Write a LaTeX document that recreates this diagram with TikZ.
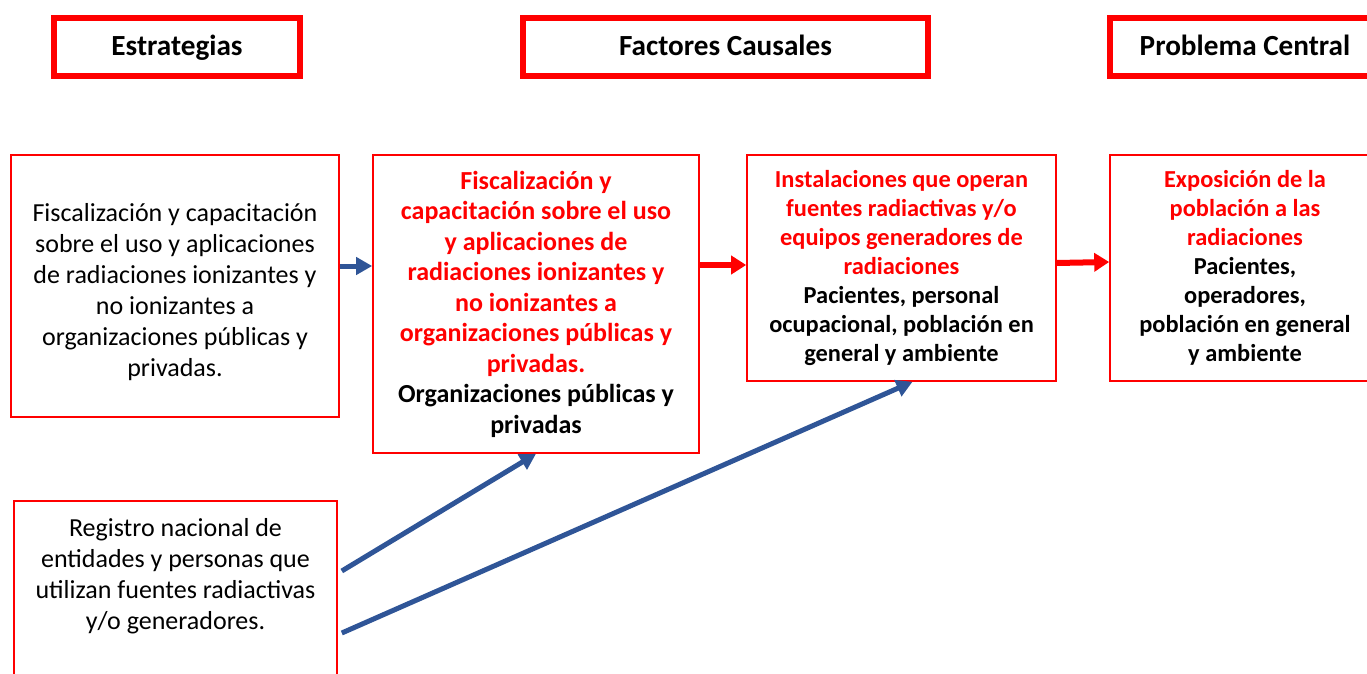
\documentclass[tikz,border=0pt]{standalone}
\usepackage{fontspec}
\setmainfont{Carlito}
\usepackage{xcolor}
\usetikzlibrary{arrows.meta,positioning,calc}

\definecolor{rojo}{HTML}{FF0000}
\definecolor{azul}{HTML}{2F5597}

\begin{document}
\begin{tikzpicture}[
    x=0.5pt, y=-0.5pt,
    header/.style={
        draw=rojo,
        line width=3pt,
        minimum height=29pt,
        text height=0.92em, text depth=0.08em,
        font=\fontsize{14.6pt}{17pt}\selectfont\bfseries
    },
    caja/.style={
        draw=rojo,
        line width=0.8pt,
        align=center,
        inner sep=0pt
    },
    normal/.style={font=\fontsize{13pt}{15.5pt}\selectfont},
    negrita/.style={font=\fontsize{12.2pt}{14.5pt}\selectfont\bfseries},
    flecha azul/.style={-{Triangle[length=8pt,width=8.5pt]}, line width=2.5pt, draw=azul},
    flecha roja/.style={-{Triangle[length=7.5pt,width=9pt]}, line width=3pt, draw=rojo}
]
\useasboundingbox (0,0) rectangle (1367,674);
\clip (0,0) rectangle (1367,674);

% encabezados
\node[header, minimum width=123pt] (estr) at (177,47) {Estrategias};
\node[header, minimum width=202.5pt] (fact) at (725.5,47) {Factores Causales};
\node[header, minimum width=135pt] (prob) at (1245,47) {Problema Central};

% cajas
\node[caja, normal, minimum width=164pt, minimum height=131pt] (fisc) at (175,286)
    {\mbox{}\\Fiscalización y capacitación\\sobre el uso y aplicaciones\\de radiaciones ionizantes y\\no ionizantes a\\organizaciones públicas y\\privadas.};
\node[caja, font=\fontsize{13pt}{15.25pt}\selectfont\bfseries, minimum width=163pt, minimum height=149pt] (fact1) at (536,304)
    {\textcolor{rojo}{Fiscalización y}\\\textcolor{rojo}{capacitación sobre el uso}\\\textcolor{rojo}{y aplicaciones de}\\\textcolor{rojo}{radiaciones ionizantes y}\\\textcolor{rojo}{no ionizantes a}\\\textcolor{rojo}{organizaciones públicas y}\\\textcolor{rojo}{privadas.}\\Organizaciones públicas y\\privadas};
\node[caja, negrita, minimum width=154.5pt, minimum height=113pt] (inst) at (901.5,268)
    {\textcolor{rojo}{Instalaciones que operan}\\\textcolor{rojo}{fuentes radiactivas y/o}\\\textcolor{rojo}{equipos generadores de}\\\textcolor{rojo}{radiaciones}\\Pacientes, personal\\ocupacional, población en\\general y ambiente};
\node[caja, negrita, minimum width=135pt, minimum height=113pt] (expo) at (1245,268)
    {\textcolor{rojo}{Exposición de la}\\\textcolor{rojo}{población a las}\\\textcolor{rojo}{radiaciones}\\Pacientes,\\operadores,\\población en general\\y ambiente};
\node[caja, normal, minimum width=161.5pt, minimum height=100pt] (regi) at (175.5,601)
    {Registro nacional de\\entidades y personas que\\utilizan fuentes radiactivas\\y/o generadores.\\[11.5pt]\mbox{}};

% flechas
\draw[flecha azul] ($(fisc.east)+(0,-20)$) -- ($(fisc.east -| fact1.west)+(0,-20)$);
\draw[flecha roja] ($(fact1.east |- inst.west)+(0,-3)$) -- ($(inst.west)+(0,-3)$);
\draw[flecha roja] ($(inst.east)+(0,-5)$) -- ($(expo.west)+(0,-6)$);
\draw[flecha azul] ($(regi.east)+(4,-30)$) -- (fact1.south);
\draw[flecha azul] ($(regi.east)+(4,32)$) -- ($(inst.south)+(11,0)$);
\end{tikzpicture}
\end{document}
